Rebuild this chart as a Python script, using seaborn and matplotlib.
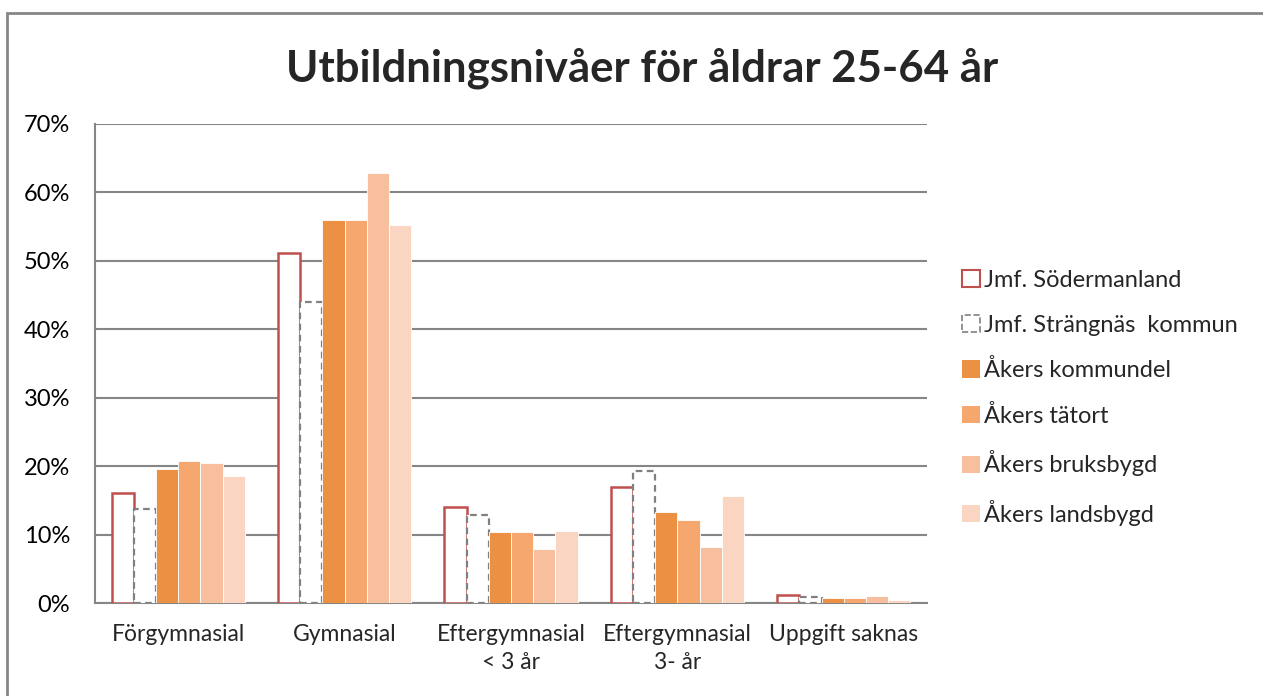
import matplotlib
matplotlib.use("Agg")
import matplotlib.pyplot as plt
import seaborn as sns
import pandas as pd
from matplotlib.patches import Patch
from matplotlib.ticker import PercentFormatter

categories = ["Förgymnasial", "Gymnasial", "Eftergymnasial\n< 3 år",
              "Eftergymnasial\n3- år", "Uppgift saknas"]
series = ["Jmf. Södermanland", "Jmf. Strängnäs  kommun", "Åkers kommundel",
          "Åkers tätort", "Åkers bruksbygd", "Åkers landsbygd"]

sodermanland = [16.1, 51.1, 14.1, 17.0, 1.2]
strangnas = [13.8, 44.0, 12.9, 19.3, 0.9]
kommundel = [19.6, 56.0, 10.4, 13.3, 0.7]
tatort = [20.8, 56.0, 10.4, 12.2, 0.7]
bruksbygd = [20.5, 62.8, 7.9, 8.2, 1.0]
landsbygd = [18.5, 55.3, 10.5, 15.6, 0.4]

values = [sodermanland, strangnas, kommundel, tatort, bruksbygd, landsbygd]
colors = ["white", "white", "#EC9144", "#F6A76E", "#F8BF9F", "#FAD5C2"]

rows = []
for s, vals in zip(series, values):
    for c, v in zip(categories, vals):
        rows.append({"kategori": c, "serie": s, "andel": v})
df = pd.DataFrame(rows)

sns.set_style("white")
plt.rcParams["font.family"] = ["Lato", "DejaVu Sans"]

fig = plt.figure(figsize=(12.63, 6.96), dpi=100)
ax = fig.add_axes([95 / 1263, 1 - 603 / 696, 832 / 1263, 479 / 696])

sns.barplot(data=df, x="kategori", y="andel", hue="serie", order=categories,
            hue_order=series, palette=colors, saturation=1, width=0.8, ax=ax,
            legend=False, linewidth=0)

# style the comparison series (outline bars)
for i, cont in enumerate(ax.containers):
    for bar in cont:
        if i == 0:
            bar.set_facecolor("white")
            bar.set_edgecolor("#C0504D")
            bar.set_linewidth(1.8)
        elif i == 1:
            bar.set_facecolor("white")
            bar.set_edgecolor("#808080")
            bar.set_linewidth(1.6)
            bar.set_linestyle((0, (3, 2)))
        else:
            bar.set_edgecolor("white")
            bar.set_linewidth(0.6)
        bar.set_zorder(3)

ax.set_ylim(0, 70)
ax.set_yticks(range(0, 71, 10))
ax.yaxis.set_major_formatter(PercentFormatter(decimals=0))
ax.set_xlim(-0.5, len(categories) - 0.5)
ax.grid(axis="y", color="#868686", linewidth=1.5, zorder=0)
ax.set_axisbelow(True)
for side in ["top", "right"]:
    ax.spines[side].set_visible(False)
for side in ["left", "bottom"]:
    ax.spines[side].set_color("#868686")
    ax.spines[side].set_linewidth(1.5)
ax.tick_params(axis="y", labelsize=17, colors="#000000", length=0, pad=18)
ax.tick_params(axis="x", labelsize=16.5, length=0, pad=15)
for lbl in ax.get_xticklabels():
    lbl.set_linespacing(1.45)
ax.set_xlabel("")
ax.set_ylabel("")

handles = [
    Patch(facecolor="white", edgecolor="#C0504D", linewidth=1.5),
    Patch(facecolor="white", edgecolor="#808080", linewidth=1.2, linestyle="--"),
    Patch(facecolor=colors[2], edgecolor="none"),
    Patch(facecolor=colors[3], edgecolor="none"),
    Patch(facecolor=colors[4], edgecolor="none"),
    Patch(facecolor=colors[5], edgecolor="none"),
]
fig.legend(handles, series, loc="upper left", bbox_to_anchor=(962 / 1263, 1 - 270 / 696),
           frameon=False, fontsize=17, handlelength=0.75, handleheight=0.75,
           handletextpad=0.2, labelspacing=1.0, borderaxespad=0, borderpad=0)

fig.text(642 / 1263, 1 - 68 / 696, "Utbildningsnivåer för åldrar 25-64 år",
         ha="center", va="center", fontsize=31.5, fontweight="bold")

fig.patches.append(plt.Rectangle((7 / 1263, -0.1), 1.2, 1 - 13 / 696 + 0.1,
                                 transform=fig.transFigure, fill=False,
                                 edgecolor="#868686", linewidth=2))

fig.savefig("out.png", dpi=100)
